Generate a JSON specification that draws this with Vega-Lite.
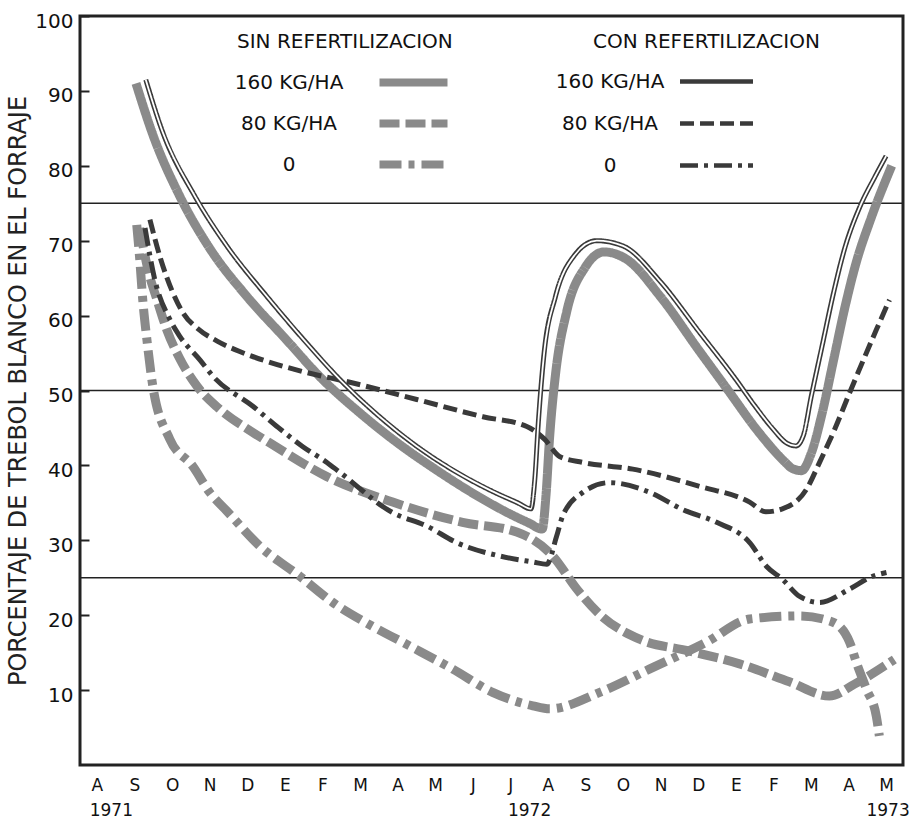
{
  "$schema": "https://vega.github.io/schema/vega-lite/v6.json",
  "width": 823,
  "height": 749,
  "autosize": {"type": "none"},
  "padding": {"left": 80, "top": 16, "right": 15, "bottom": 59},
  "background": "white",
  "config": {
    "view": {"stroke": "#222", "strokeWidth": 3},
    "font": "DejaVu Sans"
  },
  "datasets": {
    "grid": [{"v": 25}, {"v": 50}, {"v": 75}],
    "lines": [
      {"s":"SIN","d":"160 KG/HA","m":1.04,"v":91},{"s":"SIN","d":"160 KG/HA","m":1.5,"v":84},{"s":"SIN","d":"160 KG/HA","m":2.2,"v":76},{"s":"SIN","d":"160 KG/HA","m":3.0,"v":69},{"s":"SIN","d":"160 KG/HA","m":4.0,"v":62.5},{"s":"SIN","d":"160 KG/HA","m":5.0,"v":57},{"s":"SIN","d":"160 KG/HA","m":6.0,"v":51.5},{"s":"SIN","d":"160 KG/HA","m":7.0,"v":47},{"s":"SIN","d":"160 KG/HA","m":8.0,"v":43},{"s":"SIN","d":"160 KG/HA","m":9.0,"v":39.5},{"s":"SIN","d":"160 KG/HA","m":10.1,"v":36},{"s":"SIN","d":"160 KG/HA","m":11.0,"v":33.5},{"s":"SIN","d":"160 KG/HA","m":11.5,"v":32.3},{"s":"SIN","d":"160 KG/HA","m":11.85,"v":31.5},{"s":"SIN","d":"160 KG/HA","m":11.95,"v":36},{"s":"SIN","d":"160 KG/HA","m":12.05,"v":44},{"s":"SIN","d":"160 KG/HA","m":12.2,"v":52},{"s":"SIN","d":"160 KG/HA","m":12.5,"v":60.5},{"s":"SIN","d":"160 KG/HA","m":13.0,"v":66.5},{"s":"SIN","d":"160 KG/HA","m":13.5,"v":68.5},{"s":"SIN","d":"160 KG/HA","m":14.1,"v":67.5},{"s":"SIN","d":"160 KG/HA","m":15.0,"v":62.5},{"s":"SIN","d":"160 KG/HA","m":16.0,"v":55.5},{"s":"SIN","d":"160 KG/HA","m":16.8,"v":50},{"s":"SIN","d":"160 KG/HA","m":17.6,"v":44.5},{"s":"SIN","d":"160 KG/HA","m":18.3,"v":40.5},{"s":"SIN","d":"160 KG/HA","m":18.5,"v":39.6},{"s":"SIN","d":"160 KG/HA","m":18.75,"v":39.3},{"s":"SIN","d":"160 KG/HA","m":19.0,"v":41.5},{"s":"SIN","d":"160 KG/HA","m":19.3,"v":47},{"s":"SIN","d":"160 KG/HA","m":19.6,"v":54},{"s":"SIN","d":"160 KG/HA","m":19.9,"v":61},{"s":"SIN","d":"160 KG/HA","m":20.2,"v":67},{"s":"SIN","d":"160 KG/HA","m":20.6,"v":73},{"s":"SIN","d":"160 KG/HA","m":21.15,"v":80},
      {"s":"CON","d":"160 KG/HA","m":1.3,"v":91.5},{"s":"CON","d":"160 KG/HA","m":1.75,"v":84.5},{"s":"CON","d":"160 KG/HA","m":2.6,"v":76},{"s":"CON","d":"160 KG/HA","m":3.5,"v":69},{"s":"CON","d":"160 KG/HA","m":4.5,"v":62.7},{"s":"CON","d":"160 KG/HA","m":5.5,"v":56.8},{"s":"CON","d":"160 KG/HA","m":6.5,"v":51.3},{"s":"CON","d":"160 KG/HA","m":7.5,"v":46.6},{"s":"CON","d":"160 KG/HA","m":8.5,"v":42.6},{"s":"CON","d":"160 KG/HA","m":9.5,"v":39.3},{"s":"CON","d":"160 KG/HA","m":10.5,"v":36.6},{"s":"CON","d":"160 KG/HA","m":11.2,"v":35},{"s":"CON","d":"160 KG/HA","m":11.55,"v":34.2},{"s":"CON","d":"160 KG/HA","m":11.65,"v":38},{"s":"CON","d":"160 KG/HA","m":11.75,"v":46},{"s":"CON","d":"160 KG/HA","m":11.9,"v":55},{"s":"CON","d":"160 KG/HA","m":12.2,"v":62.5},{"s":"CON","d":"160 KG/HA","m":12.7,"v":68},{"s":"CON","d":"160 KG/HA","m":13.3,"v":70},{"s":"CON","d":"160 KG/HA","m":14.0,"v":69.3},{"s":"CON","d":"160 KG/HA","m":15.0,"v":64.5},{"s":"CON","d":"160 KG/HA","m":16.0,"v":58},{"s":"CON","d":"160 KG/HA","m":17.0,"v":51.5},{"s":"CON","d":"160 KG/HA","m":17.5,"v":48},{"s":"CON","d":"160 KG/HA","m":18.0,"v":44.8},{"s":"CON","d":"160 KG/HA","m":18.35,"v":43},{"s":"CON","d":"160 KG/HA","m":18.6,"v":42.6},{"s":"CON","d":"160 KG/HA","m":18.8,"v":44},{"s":"CON","d":"160 KG/HA","m":19.0,"v":49},{"s":"CON","d":"160 KG/HA","m":19.3,"v":56},{"s":"CON","d":"160 KG/HA","m":19.6,"v":63},{"s":"CON","d":"160 KG/HA","m":19.9,"v":69},{"s":"CON","d":"160 KG/HA","m":20.3,"v":74.5},{"s":"CON","d":"160 KG/HA","m":20.7,"v":78.5},{"s":"CON","d":"160 KG/HA","m":21.0,"v":81.3},
      {"s":"SIN","d":"0","m":1.06,"v":72.1},{"s":"SIN","d":"0","m":1.14,"v":67.5},{"s":"SIN","d":"0","m":1.22,"v":62.1},{"s":"SIN","d":"0","m":1.33,"v":56.8},{"s":"SIN","d":"0","m":1.49,"v":50.5},{"s":"SIN","d":"0","m":1.94,"v":43.5},{"s":"SIN","d":"0","m":2.55,"v":39.9},{"s":"SIN","d":"0","m":3.0,"v":36.4},{"s":"SIN","d":"0","m":3.46,"v":33.9},{"s":"SIN","d":"0","m":4.34,"v":29.2},{"s":"SIN","d":"0","m":5.4,"v":25.2},{"s":"SIN","d":"0","m":6.28,"v":21.7},{"s":"SIN","d":"0","m":7.34,"v":18.5},{"s":"SIN","d":"0","m":8.32,"v":15.9},{"s":"SIN","d":"0","m":9.47,"v":12.8},{"s":"SIN","d":"0","m":10.53,"v":9.7},{"s":"SIN","d":"0","m":11.6,"v":7.9},{"s":"SIN","d":"0","m":12.05,"v":7.5},{"s":"SIN","d":"0","m":13.38,"v":9.7},{"s":"SIN","d":"0","m":14.7,"v":12.8},{"s":"SIN","d":"0","m":16.22,"v":16.4},{"s":"SIN","d":"0","m":17.37,"v":19.5},{"s":"SIN","d":"0","m":18.7,"v":19.9},{"s":"SIN","d":"0","m":19.57,"v":19.1},{"s":"SIN","d":"0","m":20.03,"v":16.4},{"s":"SIN","d":"0","m":20.21,"v":13.7},{"s":"SIN","d":"0","m":20.48,"v":10.1},{"s":"SIN","d":"0","m":20.74,"v":6.5},{"s":"SIN","d":"0","m":20.82,"v":3.9},
      {"s":"SIN","d":"80 KG/HA","m":1.14,"v":71.7},{"s":"SIN","d":"80 KG/HA","m":1.36,"v":66.1},{"s":"SIN","d":"80 KG/HA","m":1.6,"v":62.1},{"s":"SIN","d":"80 KG/HA","m":1.86,"v":58.1},{"s":"SIN","d":"80 KG/HA","m":2.2,"v":54.3},{"s":"SIN","d":"80 KG/HA","m":2.66,"v":50.6},{"s":"SIN","d":"80 KG/HA","m":3.2,"v":47.8},{"s":"SIN","d":"80 KG/HA","m":4.15,"v":44.4},{"s":"SIN","d":"80 KG/HA","m":4.6,"v":43},{"s":"SIN","d":"80 KG/HA","m":6.12,"v":38.5},{"s":"SIN","d":"80 KG/HA","m":7.87,"v":35.1},{"s":"SIN","d":"80 KG/HA","m":9.73,"v":32.4},{"s":"SIN","d":"80 KG/HA","m":11.17,"v":31.1},{"s":"SIN","d":"80 KG/HA","m":12.13,"v":27.9},{"s":"SIN","d":"80 KG/HA","m":12.77,"v":23.5},{"s":"SIN","d":"80 KG/HA","m":13.38,"v":20.1},{"s":"SIN","d":"80 KG/HA","m":14.44,"v":16.8},{"s":"SIN","d":"80 KG/HA","m":15.77,"v":15.2},{"s":"SIN","d":"80 KG/HA","m":17.1,"v":13.5},{"s":"SIN","d":"80 KG/HA","m":18.43,"v":11.1},{"s":"SIN","d":"80 KG/HA","m":19.49,"v":9.2},{"s":"SIN","d":"80 KG/HA","m":20.16,"v":10.8},{"s":"SIN","d":"80 KG/HA","m":21.22,"v":14.1},
      {"s":"CON","d":"80 KG/HA","m":1.41,"v":72.8},{"s":"CON","d":"80 KG/HA","m":1.7,"v":67.5},{"s":"CON","d":"80 KG/HA","m":2.0,"v":63.3},{"s":"CON","d":"80 KG/HA","m":2.3,"v":60.3},{"s":"CON","d":"80 KG/HA","m":2.7,"v":58.2},{"s":"CON","d":"80 KG/HA","m":3.2,"v":56.6},{"s":"CON","d":"80 KG/HA","m":3.8,"v":55.2},{"s":"CON","d":"80 KG/HA","m":4.52,"v":53.9},{"s":"CON","d":"80 KG/HA","m":5.5,"v":52.5},{"s":"CON","d":"80 KG/HA","m":6.73,"v":51.1},{"s":"CON","d":"80 KG/HA","m":8.51,"v":48.8},{"s":"CON","d":"80 KG/HA","m":10.27,"v":46.5},{"s":"CON","d":"80 KG/HA","m":11.44,"v":45.2},{"s":"CON","d":"80 KG/HA","m":11.91,"v":43.5},{"s":"CON","d":"80 KG/HA","m":12.31,"v":41.2},{"s":"CON","d":"80 KG/HA","m":12.93,"v":40.4},{"s":"CON","d":"80 KG/HA","m":14.26,"v":39.5},{"s":"CON","d":"80 KG/HA","m":16.04,"v":37.2},{"s":"CON","d":"80 KG/HA","m":17.37,"v":35.1},{"s":"CON","d":"80 KG/HA","m":17.8,"v":33.8},{"s":"CON","d":"80 KG/HA","m":18.24,"v":34.2},{"s":"CON","d":"80 KG/HA","m":18.88,"v":36.8},{"s":"CON","d":"80 KG/HA","m":19.23,"v":40.4},{"s":"CON","d":"80 KG/HA","m":19.63,"v":44.8},{"s":"CON","d":"80 KG/HA","m":20.03,"v":49.7},{"s":"CON","d":"80 KG/HA","m":20.74,"v":58.1},{"s":"CON","d":"80 KG/HA","m":21.09,"v":62.1},
      {"s":"CON","d":"0","m":1.28,"v":71.7},{"s":"CON","d":"0","m":1.54,"v":64.8},{"s":"CON","d":"0","m":1.94,"v":59.5},{"s":"CON","d":"0","m":2.21,"v":57.2},{"s":"CON","d":"0","m":2.74,"v":54.1},{"s":"CON","d":"0","m":3.09,"v":51.9},{"s":"CON","d":"0","m":4.15,"v":47.9},{"s":"CON","d":"0","m":4.79,"v":45.2},{"s":"CON","d":"0","m":5.48,"v":42.5},{"s":"CON","d":"0","m":6.12,"v":40.4},{"s":"CON","d":"0","m":6.46,"v":39.1},{"s":"CON","d":"0","m":7.87,"v":33.7},{"s":"CON","d":"0","m":8.78,"v":31.9},{"s":"CON","d":"0","m":9.57,"v":29.7},{"s":"CON","d":"0","m":10.72,"v":27.9},{"s":"CON","d":"0","m":11.6,"v":27.1},{"s":"CON","d":"0","m":11.97,"v":26.8},{"s":"CON","d":"0","m":12.23,"v":30.5},{"s":"CON","d":"0","m":12.39,"v":33.2},{"s":"CON","d":"0","m":12.93,"v":36.4},{"s":"CON","d":"0","m":13.64,"v":37.7},{"s":"CON","d":"0","m":14.71,"v":36.4},{"s":"CON","d":"0","m":15.59,"v":34.1},{"s":"CON","d":"0","m":16.49,"v":32.4},{"s":"CON","d":"0","m":17.37,"v":29.7},{"s":"CON","d":"0","m":17.82,"v":26.5},{"s":"CON","d":"0","m":18.24,"v":24.8},{"s":"CON","d":"0","m":18.7,"v":22.5},{"s":"CON","d":"0","m":19.23,"v":21.7},{"s":"CON","d":"0","m":20.03,"v":23.5},{"s":"CON","d":"0","m":20.64,"v":25.2},{"s":"CON","d":"0","m":21.01,"v":25.7}
    ]
  },
  "encoding": {
    "y": {
      "field": "v",
      "type": "quantitative",
      "scale": {"domain": [0, 100], "nice": false, "zero": false},
      "axis": {
        "values": [10, 20, 30, 40, 50, 60, 70, 80, 90, 100],
        "title": "PORCENTAJE DE TREBOL BLANCO EN EL FORRAJE",
        "titleFont": "DejaVu Sans",
        "titleFontSize": 24,
        "titleFontWeight": "normal",
        "titleColor": "#222",
        "titlePadding": 4,
        "labelFont": "DejaVu Sans",
        "labelFontSize": 20,
        "labelColor": "#111",
        "labelPadding": 16,
        "labelOffset": 5,
        "labelFlush": false,
        "labelOverlap": false,
        "tickSize": -9,
        "tickWidth": 2,
        "tickColor": "#222",
        "domain": false,
        "grid": false
      }
    }
  },
  "layer": [
    {
      "data": {"name": "grid"},
      "mark": {"type": "rule", "stroke": "#222", "strokeWidth": 1.5},
      "encoding": {}
    },
    {
      "data": {"name": "lines"},
      "transform": [{"filter": "datum.s == 'SIN'"}],
      "mark": {"type": "line", "interpolate": "monotone", "stroke": "#8a8a8a", "strokeWidth": 9},
      "encoding": {
        "x": {
          "field": "m",
          "type": "quantitative",
          "scale": {"domain": [-0.45, 21.45], "nice": false, "zero": false},
          "axis": {
            "orient": "bottom",
            "values": [0,1,2,3,4,5,6,7,8,9,10,11,12,13,14,15,16,17,18,19,20,21],
            "labelExpr": "['A','S','O','N','D','E','F','M','A','M','J','J','A','S','O','N','D','E','F','M','A','M'][datum.value]",
            "title": null,
            "ticks": false,
            "domain": false,
            "grid": false,
            "labelFont": "DejaVu Sans",
            "labelFontSize": 17,
            "labelColor": "#111",
            "labelPadding": 12,
            "labelFlush": false,
            "labelOverlap": false
          }
        },
        "strokeDash": {
          "field": "d",
          "type": "nominal",
          "scale": {"domain": ["160 KG/HA", "80 KG/HA", "0"], "range": [[1, 0], [20, 6], [22, 7, 6, 7]]},
          "legend": {
            "title": "SIN REFERTILIZACION",
            "titleLimit": 500,
            "labelLimit": 300,
            "orient": "none",
            "legendX": 157,
            "legendY": 16,
            "direction": "vertical",
            "padding": 0,
            "symbolType": "M -4 0 H 4",
            "symbolSize": 289,
            "symbolStrokeWidth": 8,
            "symbolStrokeColor": "#8a8a8a",
            "symbolOffset": 164,
            "labelOffset": -137,
            "labelAlign": "center",
            "rowPadding": 8,
            "titlePadding": 18,
            "titleFont": "DejaVu Sans",
            "titleFontSize": 20,
            "titleFontWeight": "normal",
            "titleColor": "#111",
            "labelFont": "DejaVu Sans",
            "labelFontSize": 20,
            "labelColor": "#111"
          }
        }
      }
    },
    {
      "data": {"name": "lines"},
      "transform": [{"filter": "datum.s == 'CON'"}],
      "mark": {"type": "line", "interpolate": "monotone", "stroke": "#3a3a3a", "strokeWidth": 5},
      "encoding": {
        "x": {
          "field": "m",
          "type": "quantitative",
          "scale": {"domain": [-0.45, 21.45], "nice": false, "zero": false},
          "axis": {
            "orient": "bottom",
            "values": [0.37, 11.5, 21.04],
            "labelExpr": "datum.value < 5 ? '1971' : (datum.value < 15 ? '1972' : '1973')",
            "title": null,
            "ticks": false,
            "domain": false,
            "grid": false,
            "labelFont": "DejaVu Sans",
            "labelFontSize": 17,
            "labelColor": "#111",
            "labelPadding": 37,
            "labelFlush": false,
            "labelOverlap": false
          }
        },
        "strokeDash": {
          "field": "d",
          "type": "nominal",
          "scale": {"domain": ["160 KG/HA", "80 KG/HA", "0"], "range": [[1, 0], [14, 6], [18, 6, 4, 6]]},
          "legend": {
            "title": "CON REFERTILIZACION",
            "titleLimit": 500,
            "labelLimit": 300,
            "orient": "none",
            "legendX": 513,
            "legendY": 16,
            "direction": "vertical",
            "padding": 0,
            "symbolType": "M -4 0 H 4",
            "symbolSize": 333,
            "symbolStrokeWidth": 4.5,
            "symbolStrokeColor": "#3a3a3a",
            "symbolOffset": 112,
            "labelOffset": -118,
            "labelAlign": "center",
            "rowPadding": 20,
            "titlePadding": 18,
            "titleFont": "DejaVu Sans",
            "titleFontSize": 20,
            "titleFontWeight": "normal",
            "titleColor": "#111",
            "labelFont": "DejaVu Sans",
            "labelFontSize": 20,
            "labelColor": "#111"
          }
        }
      }
    },
    {
      "data": {"name": "lines"},
      "transform": [{"filter": "datum.s == 'CON' && datum.d == '160 KG/HA'"}],
      "mark": {"type": "line", "interpolate": "monotone", "stroke": "white", "strokeWidth": 1.8},
      "encoding": {
        "x": {
          "field": "m",
          "type": "quantitative",
          "scale": {"domain": [-0.45, 21.45], "nice": false, "zero": false},
          "axis": null
        }
      }
    }
  ],
  "resolve": {"scale": {"strokeDash": "independent"}, "axis": {"x": "independent"}, "legend": {"strokeDash": "independent"}}
}
